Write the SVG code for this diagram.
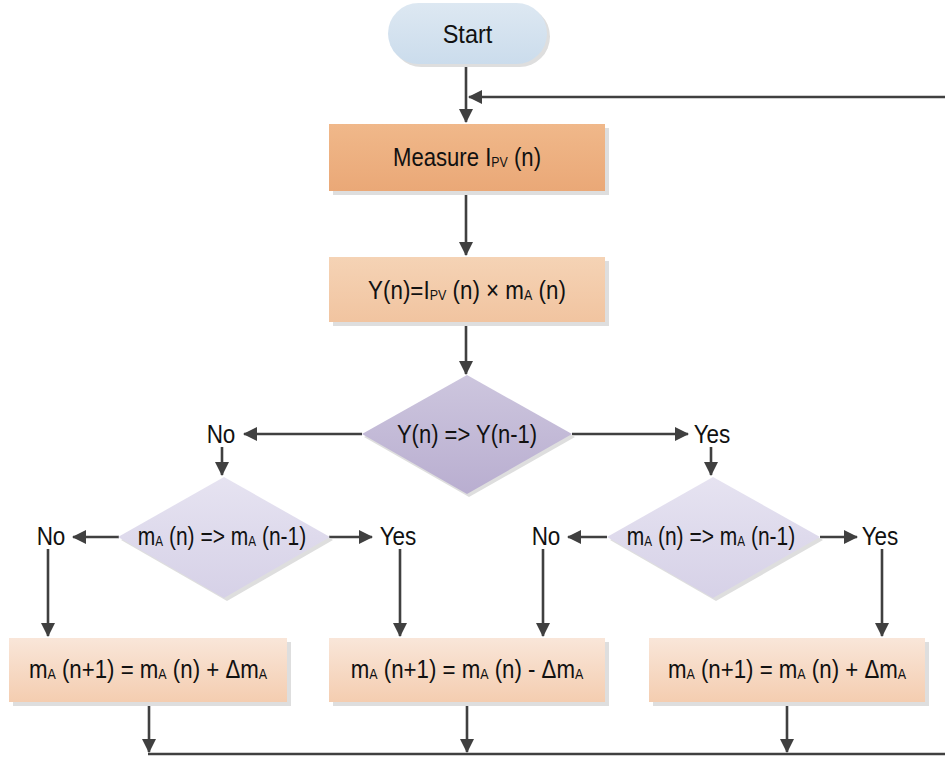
<svg xmlns="http://www.w3.org/2000/svg" width="945" height="757" viewBox="0 0 945 757">
<defs>
<linearGradient id="gStart" x1="0" y1="0" x2="0" y2="1"><stop offset="0" stop-color="#dde8f2"/><stop offset="1" stop-color="#cbdcec"/></linearGradient>
<linearGradient id="gMeas" x1="0" y1="0" x2="0" y2="1"><stop offset="0" stop-color="#f0b88a"/><stop offset="1" stop-color="#eaa877"/></linearGradient>
<linearGradient id="gY" x1="0" y1="0" x2="0" y2="1"><stop offset="0" stop-color="#f5d3b5"/><stop offset="1" stop-color="#f1c4a0"/></linearGradient>
<linearGradient id="gD1" x1="0" y1="0" x2="0" y2="1"><stop offset="0" stop-color="#cdc6de"/><stop offset="1" stop-color="#b9aed0"/></linearGradient>
<linearGradient id="gD2" x1="0" y1="0" x2="0" y2="1"><stop offset="0" stop-color="#e6e3f1"/><stop offset="1" stop-color="#d6d1e7"/></linearGradient>
<linearGradient id="gB" x1="0" y1="0" x2="0" y2="1"><stop offset="0" stop-color="#f9e6d9"/><stop offset="1" stop-color="#f4cdb0"/></linearGradient>
<marker id="arr" viewBox="0 0 14 14" markerWidth="14" markerHeight="14" refX="13" refY="7" orient="auto" markerUnits="userSpaceOnUse">
<path d="M0,0 L14,7 L0,14 z" fill="#404040"/>
</marker>
</defs>
<style>
.t{font-family:"Liberation Sans",Arial,sans-serif;font-size:25px;fill:#111;text-anchor:middle}
.s{font-size:14px}
.c{fill:none;stroke:#404040;stroke-width:2.6}
.sh{fill:#dedede}
</style>

<g id="connectors">
<path class="c" d="M466 65 V122" marker-end="url(#arr)"/>
<path class="c" d="M466 191 V255" marker-end="url(#arr)"/>
<path class="c" d="M466 322 V374" marker-end="url(#arr)"/>
<path class="c" d="M362 434 H244" marker-end="url(#arr)"/>
<path class="c" d="M572 434 H688" marker-end="url(#arr)"/>
<path class="c" d="M222 447 V475" marker-end="url(#arr)"/>
<path class="c" d="M711 447 V475" marker-end="url(#arr)"/>
<path class="c" d="M119 537 H73" marker-end="url(#arr)"/>
<path class="c" d="M329 537 H372" marker-end="url(#arr)"/>
<path class="c" d="M607 537 H568" marker-end="url(#arr)"/>
<path class="c" d="M820 537 H857" marker-end="url(#arr)"/>
<path class="c" d="M48 549 V636" marker-end="url(#arr)"/>
<path class="c" d="M400 549 V636" marker-end="url(#arr)"/>
<path class="c" d="M543 549 V636" marker-end="url(#arr)"/>
<path class="c" d="M882 549 V636" marker-end="url(#arr)"/>
<path class="c" d="M149 702 V752" marker-end="url(#arr)"/>
<path class="c" d="M467 702 V752" marker-end="url(#arr)"/>
<path class="c" d="M787 702 V752" marker-end="url(#arr)"/>
<path class="c" d="M148 754 H950 V97 H469" marker-end="url(#arr)"/>
</g>

<g id="start">
<rect class="sh" x="391" y="6" width="159" height="61" rx="30.5"/>
<rect x="388" y="3" width="159" height="61" rx="30.5" fill="url(#gStart)"/>
<text class="t" transform="matrix(0.94 0 0 1 467.5 0)" x="0" y="43">Start</text>
</g>

<g id="measure">
<rect class="sh" x="333" y="128" width="276" height="67"/>
<rect x="329" y="124" width="276" height="67" fill="url(#gMeas)"/>
<text class="t" transform="matrix(0.885 0 0 1 467 0)" x="0" y="166">Measure I<tspan class="s" dy="1">PV</tspan><tspan dy="-1"> (n)</tspan></text>
</g>

<g id="compute">
<rect class="sh" x="333" y="261" width="276" height="65"/>
<rect x="329" y="257" width="276" height="65" fill="url(#gY)"/>
<text class="t" transform="matrix(0.895 0 0 1 467 0)" x="0" y="299">Y(n)=I<tspan class="s" dy="1">PV</tspan><tspan dy="-1"> (n) × m</tspan><tspan class="s" dy="1">A</tspan><tspan dy="-1"> (n)</tspan></text>
</g>

<g id="decision1">
<path class="sh" d="M469 378 L575 437 L469 497 L364 437 z"/>
<path d="M467 375 L572 434 L467 494 L362 434 z" fill="url(#gD1)"/>
<text class="t" transform="matrix(0.88 0 0 1 467 0)" x="0" y="443">Y(n) =&gt; Y(n-1)</text>
</g>

<g id="label-no1"><text class="t" transform="matrix(0.9 0 0 1 221 0)" x="0" y="443">No</text></g>
<g id="label-yes1"><text class="t" transform="matrix(0.9 0 0 1 712 0)" x="0" y="443">Yes</text></g>

<g id="decision2">
<path class="sh" d="M227 480 L333 540 L227 601 L121 540 z"/>
<path d="M224 477 L330 537 L224 598 L118 537 z" fill="url(#gD2)"/>
<text class="t" transform="matrix(0.84 0 0 1 222 0)" x="0" y="545">m<tspan class="s" dy="1">A</tspan><tspan dy="-1"> (n) =&gt; m</tspan><tspan class="s" dy="1">A</tspan><tspan dy="-1"> (n-1)</tspan></text>
</g>

<g id="decision3">
<path class="sh" d="M716 480 L823 540 L716 601 L610 540 z"/>
<path d="M713 477 L820 537 L713 598 L607 537 z" fill="url(#gD2)"/>
<text class="t" transform="matrix(0.84 0 0 1 711 0)" x="0" y="545">m<tspan class="s" dy="1">A</tspan><tspan dy="-1"> (n) =&gt; m</tspan><tspan class="s" dy="1">A</tspan><tspan dy="-1"> (n-1)</tspan></text>
</g>

<g id="label-no2"><text class="t" transform="matrix(0.9 0 0 1 51 0)" x="0" y="545">No</text></g>
<g id="label-yes2"><text class="t" transform="matrix(0.9 0 0 1 398 0)" x="0" y="545">Yes</text></g>
<g id="label-no3"><text class="t" transform="matrix(0.9 0 0 1 546 0)" x="0" y="545">No</text></g>
<g id="label-yes3"><text class="t" transform="matrix(0.9 0 0 1 880 0)" x="0" y="545">Yes</text></g>

<g id="update1">
<rect class="sh" x="13" y="642" width="278" height="64"/>
<rect x="9" y="638" width="278" height="64" fill="url(#gB)"/>
<text class="t" transform="matrix(0.89 0 0 1 148 0)" x="0" y="678">m<tspan class="s" dy="1">A</tspan><tspan dy="-1"> (n+1) = m</tspan><tspan class="s" dy="1">A</tspan><tspan dy="-1"> (n) + Δm</tspan><tspan class="s" dy="1">A</tspan></text>
</g>

<g id="update2">
<rect class="sh" x="333" y="642" width="276" height="64"/>
<rect x="329" y="638" width="276" height="64" fill="url(#gB)"/>
<text class="t" transform="matrix(0.89 0 0 1 467 0)" x="0" y="678">m<tspan class="s" dy="1">A</tspan><tspan dy="-1"> (n+1) = m</tspan><tspan class="s" dy="1">A</tspan><tspan dy="-1"> (n) - Δm</tspan><tspan class="s" dy="1">A</tspan></text>
</g>

<g id="update3">
<rect class="sh" x="653" y="642" width="276" height="64"/>
<rect x="649" y="638" width="276" height="64" fill="url(#gB)"/>
<text class="t" transform="matrix(0.89 0 0 1 787 0)" x="0" y="678">m<tspan class="s" dy="1">A</tspan><tspan dy="-1"> (n+1) = m</tspan><tspan class="s" dy="1">A</tspan><tspan dy="-1"> (n) + Δm</tspan><tspan class="s" dy="1">A</tspan></text>
</g>
</svg>
